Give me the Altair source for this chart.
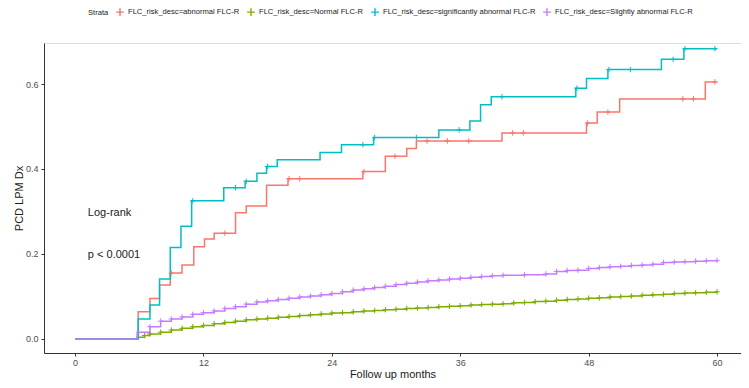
import altair as alt
import pandas as pd

strata = [
    "FLC_risk_desc=abnormal FLC-R",
    "FLC_risk_desc=Normal FLC-R",
    "FLC_risk_desc=significantly abnormal FLC-R",
    "FLC_risk_desc=Slightly abnormal FLC-R",
]
colors = ["#F8766D", "#7CAE00", "#00BFC4", "#C77CFF"]

# abnormal FLC-R (red)
abn_t = [0, 5.9, 7.0, 7.9, 8.9, 10.0, 11.1, 12.1, 13.0, 15.0, 16.0, 17.9, 19.9, 26.9, 29.0, 31.0, 31.9, 39.9, 47.8, 48.8, 50.9, 58.9, 60]
abn_v = [0, 0.064, 0.095, 0.127, 0.155, 0.174, 0.217, 0.235, 0.249, 0.297, 0.313, 0.362, 0.377, 0.394, 0.430, 0.448, 0.466, 0.485, 0.508, 0.534, 0.565, 0.605, 0.605]
abn_cens = [9.0, 14.0, 20.0, 21.0, 27.0, 29.9, 32.9, 34.8, 36.8, 40.9, 41.9, 47.9, 49.8, 56.8, 57.8, 59.8]

# significantly abnormal FLC-R (cyan)
sig_t = [0, 5.9, 7.0, 7.9, 8.9, 9.9, 10.9, 13.9, 15.9, 17.0, 17.9, 18.9, 22.9, 24.9, 27.9, 34.0, 36.9, 37.9, 38.9, 46.8, 47.8, 49.8, 54.8, 56.9, 60]
sig_v = [0, 0.047, 0.080, 0.141, 0.215, 0.265, 0.325, 0.356, 0.371, 0.390, 0.406, 0.422, 0.439, 0.457, 0.474, 0.492, 0.513, 0.551, 0.570, 0.590, 0.613, 0.634, 0.658, 0.683, 0.683]
sig_cens = [11.0, 15.0, 16.0, 18.0, 26.9, 28.0, 31.9, 35.9, 39.9, 46.9, 49.9, 51.9, 55.9, 57.0, 59.8]

# Slightly abnormal FLC-R (purple)
sli_t = [0, 5.8, 7.0, 8.0, 9, 10, 11, 12, 13, 14, 15, 16, 17, 18, 19, 20, 21, 22, 23, 24, 25, 26, 27, 28, 29, 30,
         31, 32, 33, 34, 35, 36, 37, 38, 39, 40, 42, 44, 45, 46, 47, 48, 49, 50, 51, 52, 53, 54, 55, 56, 57, 58, 59, 60]
sli_v = [0, 0.016, 0.029, 0.042, 0.047, 0.052, 0.058, 0.062, 0.066, 0.072, 0.076, 0.082, 0.087, 0.090, 0.093, 0.096,
         0.099, 0.101, 0.104, 0.107, 0.111, 0.115, 0.118, 0.121, 0.124, 0.128, 0.131, 0.134, 0.137, 0.139, 0.141,
         0.143, 0.145, 0.147, 0.149, 0.150, 0.151, 0.153, 0.159, 0.161, 0.162, 0.166, 0.168, 0.170, 0.171, 0.173,
         0.174, 0.176, 0.180, 0.181, 0.182, 0.183, 0.184, 0.185]

# Normal FLC-R (green)
nor_t = [0, 5.8, 6.5, 7, 8, 9, 10, 11, 12, 13, 14, 15, 16, 17, 18, 19, 20, 21, 22, 23, 24, 25, 26, 27, 28, 29, 30,
         31, 32, 33, 34, 35, 36, 37, 38, 39, 40, 41, 42, 43, 44, 45, 46, 47, 48, 49, 50, 51, 52, 53, 54, 55, 56, 57, 58, 59, 60]
nor_v = [0, 0.004, 0.008, 0.012, 0.016, 0.021, 0.025, 0.029, 0.032, 0.036, 0.039, 0.042, 0.045, 0.047, 0.049, 0.051,
         0.053, 0.055, 0.057, 0.059, 0.061, 0.062, 0.064, 0.066, 0.067, 0.069, 0.070, 0.072, 0.073, 0.074, 0.076,
         0.077, 0.078, 0.080, 0.081, 0.082, 0.083, 0.085, 0.086, 0.088, 0.089, 0.091, 0.093, 0.094, 0.096, 0.097,
         0.099, 0.100, 0.101, 0.103, 0.104, 0.105, 0.107, 0.108, 0.109, 0.110, 0.111]

ann_text = ["Log-rank", "p < 0.0001"]
ann_x = [1.2, 1.2]
ann_y = [0.296, 0.198]

x_ticks = [0, 12, 24, 36, 48, 60]
y_ticks = [0.0, 0.2, 0.4, 0.6]


def step_value(ts, vs, t):
    val = vs[0]
    for ti, vi in zip(ts, vs):
        if ti <= t:
            val = vi
    return val


curves = [(strata[0], abn_t, abn_v), (strata[1], nor_t, nor_v), (strata[2], sig_t, sig_v), (strata[3], sli_t, sli_v)]
rows = []
for name, ts, vs in curves:
    for t, v in zip(ts, vs):
        rows.append({"month": t, "value": v, "strata": name})
lines_df = pd.DataFrame(rows)

crow = []
for t in abn_cens:
    crow.append({"month": t, "value": step_value(abn_t, abn_v, t), "strata": strata[0]})
for t in sig_cens:
    crow.append({"month": t, "value": step_value(sig_t, sig_v, t), "strata": strata[2]})
for name, ts, vs in [(strata[1], nor_t, nor_v), (strata[3], sli_t, sli_v)]:
    for t, v in zip(ts[2:], vs[2:]):
        crow.append({"month": t, "value": v, "strata": name})
cens_df = pd.DataFrame(crow)

ann_df = pd.DataFrame({"text": ann_text, "x": ann_x, "y": ann_y})

plus = "M-1,0L1,0M0,-1L0,1"

xscale = alt.Scale(domain=[-2.9, 62.24], nice=False, zero=False)
yscale = alt.Scale(domain=[-0.033, 0.6965], nice=False, zero=False)
cscale = alt.Scale(domain=strata, range=colors)

xaxis = alt.Axis(values=x_ticks, title="Follow up months", grid=False, format="d",
                 labelFontSize=9, labelColor="#4d4d4d", titleFontSize=11, titleFontWeight="normal",
                 titleColor="#1a1a1a", domainColor="#333333", tickColor="#333333", tickSize=3,
                 labelPadding=2, titlePadding=1, labelFont="Liberation Sans", titleFont="Liberation Sans")
yaxis = alt.Axis(values=y_ticks, title="PCD LPM Dx", grid=False, format=".1f",
                 labelFontSize=9, labelColor="#4d4d4d", titleFontSize=11, titleFontWeight="normal",
                 titleColor="#1a1a1a", domainColor="#333333", tickColor="#333333", tickSize=3,
                 labelPadding=3, titlePadding=1, labelFont="Liberation Sans", titleFont="Liberation Sans")

legend = alt.Legend(title="Strata", orient="none", direction="horizontal", legendX=44, legendY=-36,
                    titleOrient="left", titleFontSize=7.6, titleFontWeight="normal", titleColor="#1a1a1a",
                    labelFontSize=7.6, labelColor="#1a1a1a", labelFont="Liberation Sans", titleFont="Liberation Sans",
                    symbolType=plus, symbolSize=60, symbolStrokeWidth=1.4, columnPadding=4, labelOffset=3,
                    titlePadding=6, labelLimit=300)

lines = alt.Chart(lines_df).mark_line(interpolate="step-after", strokeWidth=1.5).encode(
    x=alt.X("month:Q", scale=xscale, axis=xaxis),
    y=alt.Y("value:Q", scale=yscale, axis=yaxis),
    color=alt.Color("strata:N", scale=cscale, legend=legend),
    detail="strata:N",
    order="month:Q",
)

points = alt.Chart(cens_df).mark_point(shape=plus, size=30, strokeWidth=1, filled=False, opacity=1).encode(
    x=alt.X("month:Q", scale=xscale),
    y=alt.Y("value:Q", scale=yscale),
    color=alt.Color("strata:N", scale=cscale, legend=None),
)

ann = alt.Chart(ann_df).mark_text(align="left", baseline="middle", fontSize=11, font="Liberation Sans",
                                  color="#1a1a1a").encode(
    x=alt.X("x:Q", scale=xscale),
    y=alt.Y("y:Q", scale=yscale),
    text="text:N",
)

chart = alt.layer(lines, points, ann).properties(
    width=697, height=310,
    autosize=alt.AutoSizeParams(type="none"),
    padding={"left": 36, "top": 35, "right": 0, "bottom": 27},
).configure_view(stroke=None).configure(background="white")

chart.save("out.html", embed_options={"renderer": "svg", "actions": False})
